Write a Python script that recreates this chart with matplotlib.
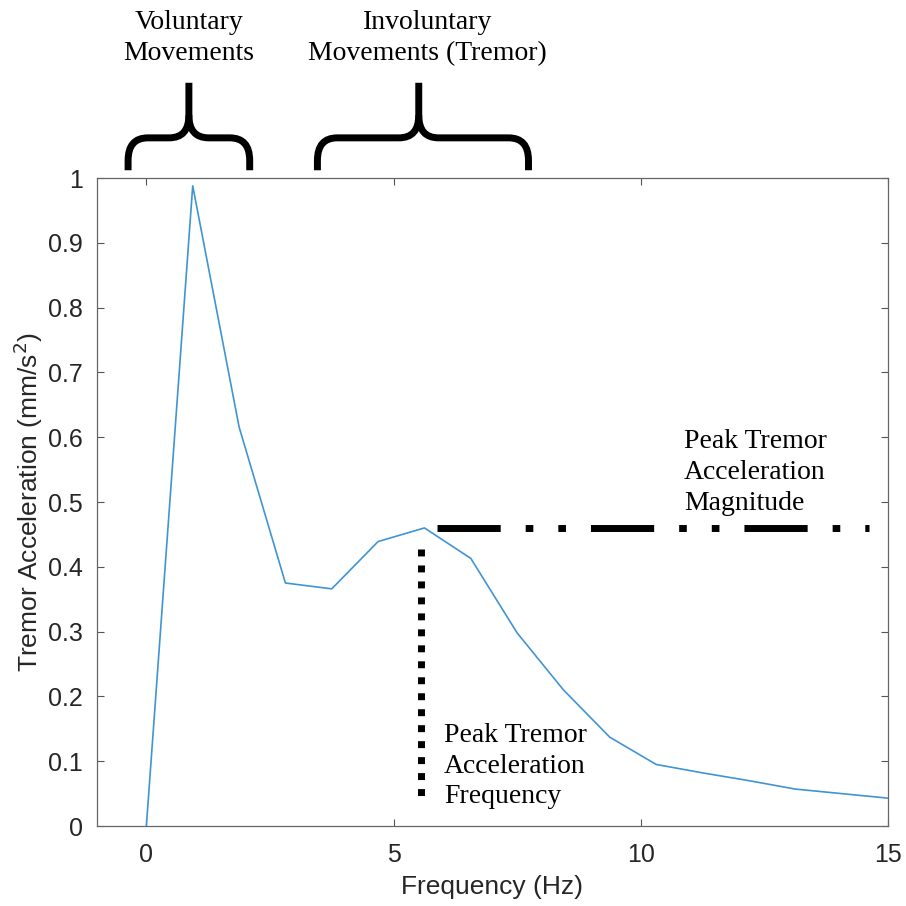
import matplotlib.pyplot as plt
from matplotlib.path import Path
from matplotlib.patches import PathPatch

# spectrum values
freq = [0, 0.9375, 1.875, 2.8125, 3.75, 4.6875, 5.625, 6.5625, 7.5, 8.4375,
        9.375, 10.3125, 11.25, 12.1875, 13.125, 14.0625, 15]
accel = [0.0, 0.988, 0.616, 0.375, 0.366, 0.439, 0.460, 0.413, 0.298, 0.210,
         0.137, 0.095, 0.082, 0.070, 0.057, 0.050, 0.043]

x_ticks = [0, 5, 10, 15]
y_ticks = [0, 0.1, 0.2, 0.3, 0.4, 0.5, 0.6, 0.7, 0.8, 0.9, 1]
y_ticklabels = ['0', '0.1', '0.2', '0.3', '0.4', '0.5', '0.6', '0.7', '0.8', '0.9', '1']

peak_freq = 5.56
peak_mag = 0.46

# bracket spans (x from, stem, x to) and the text centre above each
brackets = [(-0.37, 0.86, 2.09), (3.46, 5.51, 7.73)]
bracket_text_x = [0.86, 5.69]
bracket_labels = ['Voluntary\nMovements', 'Involuntary\nMovements (Tremor)']

plt.rcParams['font.family'] = 'Liberation Sans'
fig = plt.figure(figsize=(9.06, 9.06), dpi=100)
ax = fig.add_axes([0.107, 0.0883, 0.873, 0.7152])

ax.plot(freq, accel, color='#4194d3', lw=1.2)

# peak magnitude (dash-dot-dot) and peak frequency (dotted) markers
ax.plot([5.88, 14.62], [peak_mag, peak_mag], color='black', lw=5.0,
        dashes=(9.1, 3.6, 1.1, 3.6, 1.1, 3.6), solid_capstyle='butt',
        dash_capstyle='butt')
ax.plot([peak_freq, peak_freq], [0.428, 0.043], color='black', lw=5.0,
        dashes=(1.0, 1.3), dash_capstyle='butt')

ax.set_xlim(-1, 15)
ax.set_ylim(0, 1)
ax.set_xticks(x_ticks)
ax.set_yticks(y_ticks)
ax.set_yticklabels(y_ticklabels)
ax.tick_params(direction='in', length=5, width=0.8, top=True, right=True,
               labelsize=18, colors='#555555', labelcolor='#262626')
ax.tick_params(axis='x', pad=12)
ax.tick_params(axis='y', pad=10)
for s in ax.spines.values():
    s.set_color('#666666')
    s.set_linewidth(0.9)
ax.set_xlabel('Frequency (Hz)', fontsize=19, color='#262626', labelpad=6)
ax.set_ylabel('Tremor Acceleration (mm/s$^2$)', fontsize=19, color='#262626',
              labelpad=2)

# curly brackets above the axes
yb, yh, yt = 1.012, 1.062, 1.147
r = 0.035
for (x0, xm, x1), tx, lab in zip(brackets, bracket_text_x, bracket_labels):
    rx = 0.4
    verts = [(x0, yb), (x0, yh - r), (x0, yh), (x0 + rx, yh),
             (xm - rx, yh), (xm, yh), (xm, yh + r), (xm, yt)]
    codes = [Path.MOVETO, Path.LINETO, Path.CURVE3, Path.CURVE3,
             Path.LINETO, Path.CURVE3, Path.CURVE3, Path.LINETO]
    verts2 = [(x1, yb), (x1, yh - r), (x1, yh), (x1 - rx, yh),
              (xm + rx, yh), (xm, yh), (xm, yh + r)]
    codes2 = [Path.MOVETO, Path.LINETO, Path.CURVE3, Path.CURVE3,
              Path.LINETO, Path.CURVE3, Path.CURVE3]
    for v, c in ((verts, codes), (verts2, codes2)):
        ax.add_patch(PathPatch(Path(v, c), fill=False, lw=5.0, color='black',
                               clip_on=False, capstyle='butt', joinstyle='round'))
    ax.text(tx, 1.259, lab, ha='center', va='top', fontsize=20,
            family='Liberation Serif', linespacing=1.3, clip_on=False)

ax.text(10.88, 0.612, 'Peak Tremor\nAcceleration\nMagnitude', ha='left',
        va='top', fontsize=20, family='Liberation Serif', linespacing=1.3)
ax.text(6.02, 0.159, 'Peak Tremor\nAcceleration\nFrequency', ha='left',
        va='top', fontsize=20, family='Liberation Serif', linespacing=1.3)

fig.savefig('out.png', dpi=100)
